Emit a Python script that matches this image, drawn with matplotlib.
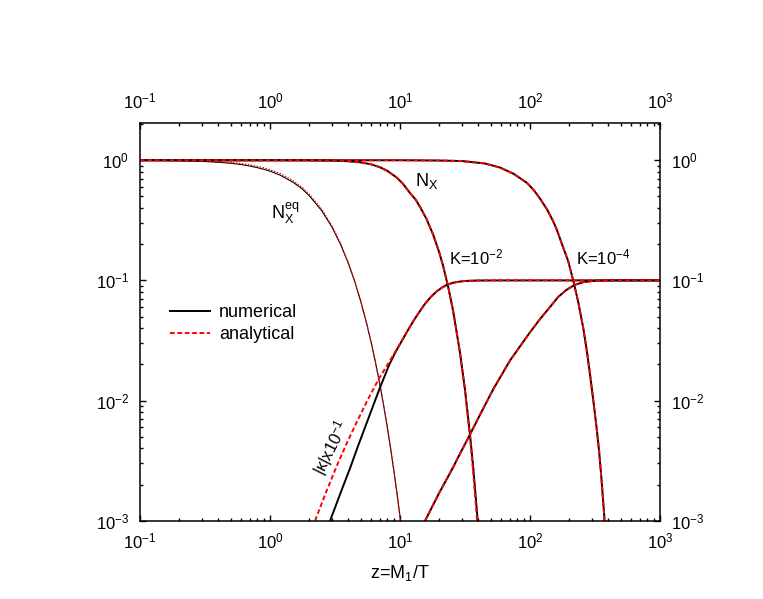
import matplotlib
matplotlib.use('Agg')
import matplotlib.pyplot as plt
from matplotlib.ticker import LogLocator, NullFormatter

plt.rcParams['font.family'] = ['Liberation Sans', 'DejaVu Sans']
plt.rcParams['mathtext.fontset'] = 'custom'
plt.rcParams['mathtext.rm'] = 'Liberation Sans'
plt.rcParams['mathtext.it'] = 'Liberation Sans'
plt.rcParams['mathtext.bf'] = 'Liberation Sans:bold'

# equilibrium abundance N_X^eq
z_eq = [0.1, 0.2, 0.3, 0.4, 0.5, 0.6, 0.7, 0.8, 0.9, 1.0, 1.2, 1.5, 1.75, 2.0, 2.5, 3.0,
        3.5, 4.0, 4.5, 5.0, 5.5, 6.0, 6.5, 7.0, 7.5, 8.0, 8.5, 9.0, 9.5, 10.0, 10.5]
neq_num = [0.9975, 0.990, 0.978, 0.962, 0.944, 0.921, 0.895, 0.868, 0.840, 0.812, 0.751,
           0.657, 0.583, 0.508, 0.380, 0.277, 0.198, 0.139, 0.0966, 0.0663, 0.0451,
           0.0305, 0.0204, 0.0136, 0.0090, 0.00593, 0.00389, 0.00254, 0.00166,
           0.00108, 0.0007]
neq_ana = [0.9985, 0.994, 0.985, 0.973, 0.960, 0.940, 0.916, 0.890, 0.864, 0.836, 0.775,
           0.678, 0.601, 0.524, 0.392, 0.284, 0.202, 0.141, 0.0975, 0.0666, 0.0452,
           0.0305, 0.0204, 0.0136, 0.0090, 0.00593, 0.00389, 0.00254, 0.00166,
           0.00108, 0.0007]

# N_X, K = 1e-2
z_n1 = [0.1, 1.0, 2.0, 3.0, 4.0, 5.0, 6.0, 7.0, 8.0, 9.4, 10.5, 12.0, 13.2, 14.3, 16.0,
        18.0, 20.0, 21.5, 23.5, 25.7, 28.9, 31.6, 34.5, 36.6, 38.2, 39.5, 41.0]
n1_num = [1.0, 1.0, 0.998, 0.993, 0.982, 0.960, 0.925, 0.875, 0.815, 0.72, 0.64, 0.53,
          0.47, 0.407, 0.324, 0.240, 0.172, 0.131, 0.088, 0.0547, 0.0253, 0.0124,
          0.0053, 0.00276, 0.0016, 0.00103, 0.0006]
n1_ana = [1.0, 1.0, 0.998, 0.993, 0.982, 0.960, 0.925, 0.875, 0.815, 0.72, 0.64, 0.53,
          0.47, 0.407, 0.324, 0.240, 0.172, 0.131, 0.088, 0.0547, 0.0253, 0.0121,
          0.0050, 0.00250, 0.00140, 0.0009, 0.0005]

# N_X, K = 1e-4
z_n2 = [0.1, 10.0, 20.0, 30.0, 45.0, 58.8, 75.0, 94.4, 107.0, 119.0, 135.0, 150.0,
        160.0, 180.0, 197.0, 215.0, 235.0, 257.0, 275.0, 289.5, 310.0, 326.0, 340.0,
        355.0, 372.0, 385.0]
n2_num = [1.0, 1.0, 0.995, 0.985, 0.94, 0.87, 0.77, 0.65, 0.564, 0.482, 0.391, 0.314,
          0.268, 0.188, 0.144, 0.1, 0.066, 0.04, 0.025, 0.0165, 0.0092, 0.0058,
          0.0038, 0.0022, 0.00112, 0.0006]

# |kappa| x 0.1, K = 1e-2
z_k1_num = [2.9, 3.5, 4.12, 4.8, 5.54, 6.2, 6.93, 8.2, 9.0, 10.0, 11.5, 13.0, 15.5,
            17.2, 19.0, 21.0, 22.9, 25.5, 28.9, 32.0, 40.0, 60.0, 1000.0]
k1_num = [0.001, 0.00172, 0.00272, 0.0043, 0.0065, 0.009, 0.0124, 0.0195, 0.024, 0.0295,
          0.0385, 0.048, 0.0635, 0.0725, 0.0805, 0.087, 0.0918, 0.0955, 0.0978, 0.099,
          0.0998, 0.1, 0.1]
z_k1_ana = [2.22, 2.7, 3.26, 3.9, 4.64, 5.6, 6.81, 8.37, 10.0, 11.5, 13.0, 15.5, 17.2,
            19.0, 21.0, 22.9, 25.5, 28.9, 32.0, 40.0, 60.0, 1000.0]
k1_ana = [0.001, 0.00173, 0.00285, 0.00443, 0.00659, 0.00998, 0.0149, 0.0215, 0.0297,
          0.0385, 0.048, 0.0635, 0.0725, 0.0805, 0.087, 0.0918, 0.0955, 0.0978, 0.099,
          0.0998, 0.1, 0.1]

# |kappa| x 0.1, K = 1e-4
z_k2 = [15.6, 20.0, 25.7, 28.9, 34.5, 41.2, 52.3, 70.1, 100.0, 120.0, 142.5, 165.0,
        191.0, 222.0, 260.0, 307.0, 350.0, 450.0, 1000.0]
k2 = [0.001, 0.0017, 0.0028, 0.0036, 0.0052, 0.0076, 0.0125, 0.0215, 0.037, 0.048,
      0.06, 0.073, 0.0835, 0.092, 0.097, 0.0990, 0.0997, 0.1, 0.1]

fig, ax = plt.subplots(figsize=(7.63, 5.99), dpi=100)
fig.subplots_adjust(left=0.1835, right=0.865, bottom=0.1307, top=0.795)

dash = (2.4, 1.4)
lw = 1.4

ax.plot(z_eq, neq_num, color='black', lw=0.8)
ax.plot(z_eq, neq_ana, color='red', lw=0.9, dashes=(1.2, 1.2))

ax.plot(z_n1, n1_num, color='black', lw=lw, label='numerical')
ax.plot(z_n1, n1_ana, color='red', lw=lw, dashes=dash, label='analytical')
ax.plot(z_n2, n2_num, color='black', lw=lw)
ax.plot(z_n2, n2_num, color='red', lw=lw, dashes=dash)

ax.plot(z_k1_num, k1_num, color='black', lw=lw)
ax.plot(z_k1_ana, k1_ana, color='red', lw=lw, dashes=dash)
ax.plot(z_k2, k2, color='black', lw=lw)
ax.plot(z_k2, k2, color='red', lw=lw, dashes=dash)

ax.set_xscale('log')
ax.set_yscale('log')
ax.set_xlim(0.1, 1000)
ax.set_ylim(1e-3, 2.05)

for axis in (ax.xaxis, ax.yaxis):
    axis.set_major_locator(LogLocator(base=10, numticks=10))
    axis.set_minor_locator(LogLocator(base=10, subs=range(2, 10), numticks=10))
    axis.set_minor_formatter(NullFormatter())

ax.tick_params(which='both', direction='in', top=True, right=True,
               labeltop=True, labelright=True, labelsize=12, width=1.0)
ax.tick_params(which='major', length=4.5, pad=8)
ax.tick_params(which='minor', length=2.5)
for s in ax.spines.values():
    s.set_linewidth(1.1)

ax.set_xlabel(r'z=M$_1$/T', fontsize=13, labelpad=8)

ax.text(1.02, 0.36, r'N$_X^{eq}$', fontsize=13, ha='left', va='center')
ax.text(13.0, 0.668, r'N$_X$', fontsize=13, ha='left', va='center')
ax.text(23.8, 0.154, r'K=10$^{-2}$', fontsize=12, ha='left', va='center')
ax.text(226, 0.154, r'K=10$^{-4}$', fontsize=12, ha='left', va='center')
ax.text(2.94, 4.06e-3, r'|$\kappa$|x10$^{-1}$', fontsize=12, ha='center', va='center',
        rotation=63)

ax.legend(loc='upper left', bbox_to_anchor=(0.0577, 0.5445), frameon=False,
          fontsize=13, handlelength=2.2, handletextpad=0.5, labelspacing=0.3,
          borderpad=0, borderaxespad=0)

fig.savefig('out.png', dpi=100)
